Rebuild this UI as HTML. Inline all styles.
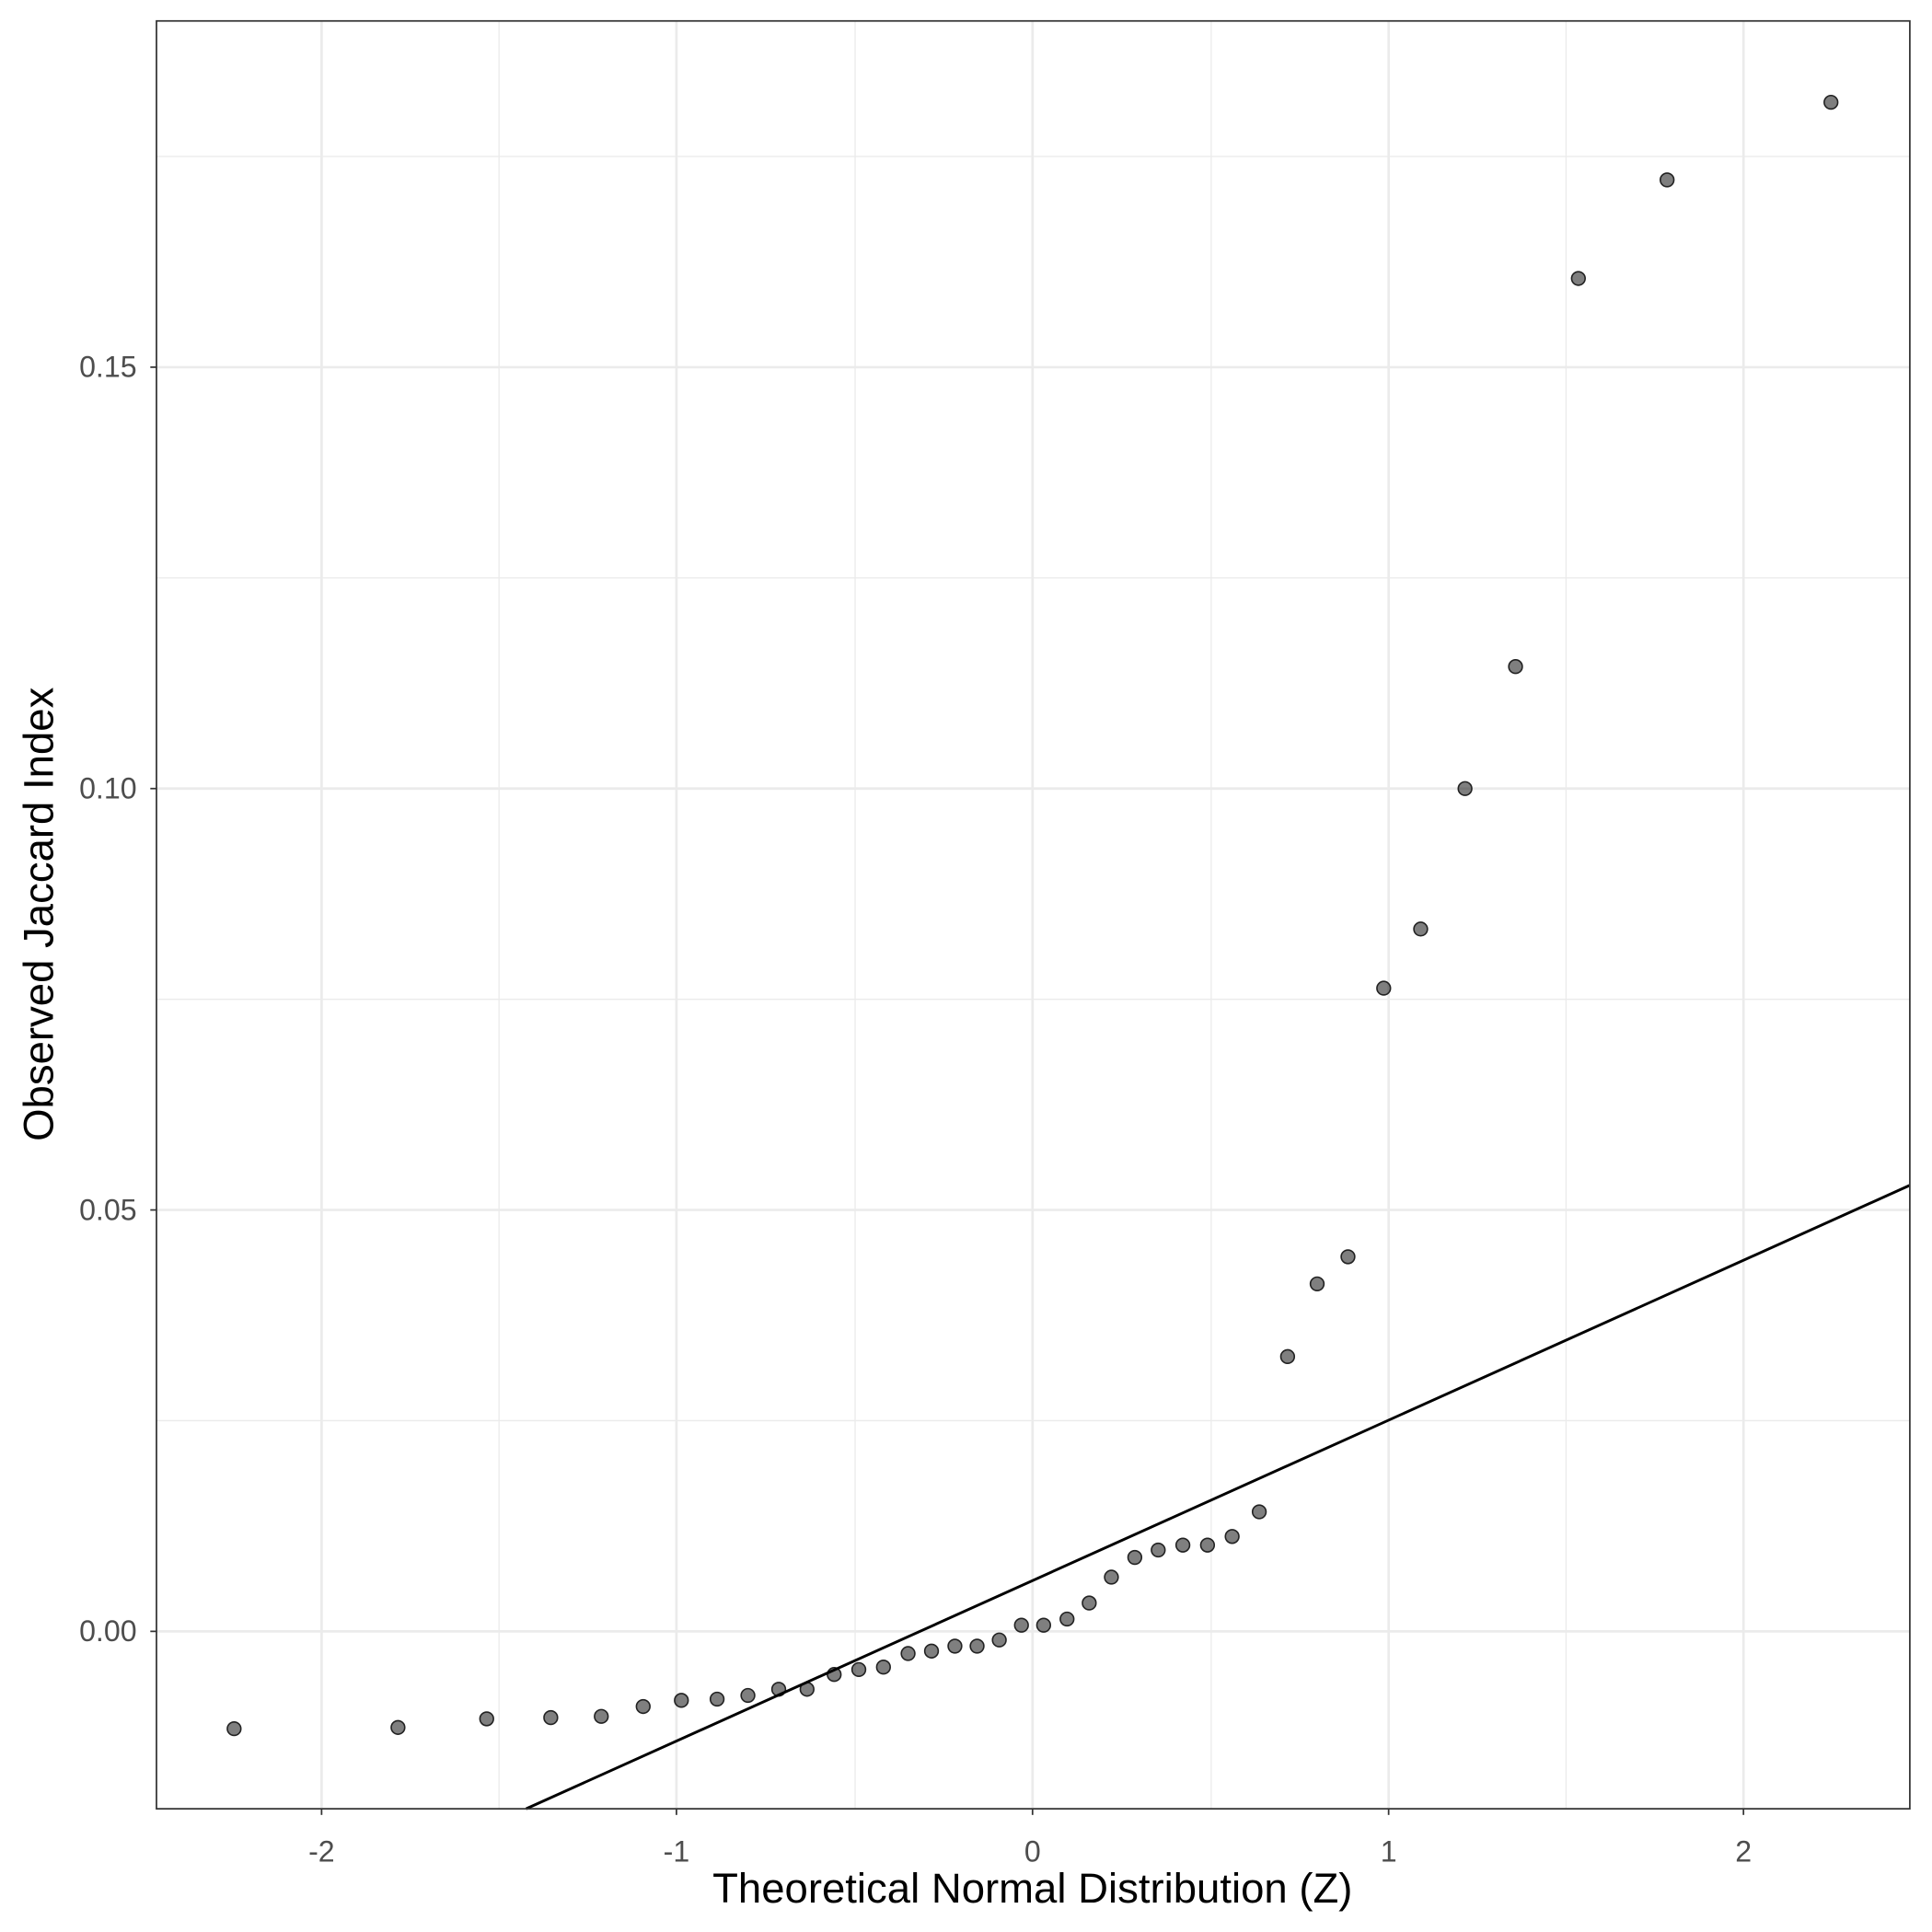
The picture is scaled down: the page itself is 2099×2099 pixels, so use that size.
<!DOCTYPE html>
<html><head><meta charset="utf-8"><style>html,body{margin:0;padding:0;background:#fff}svg{display:block}</style></head>
<body>
<svg width="2099" height="2099" viewBox="0 0 1568 1568" xmlns="http://www.w3.org/2000/svg" font-family="Liberation Sans, sans-serif">
<rect width="1568" height="1568" fill="#fff"/>
<g stroke="#ebebeb" stroke-width="1">
<line x1="405" y1="17" x2="405" y2="1468"/><line x1="694" y1="17" x2="694" y2="1468"/><line x1="983" y1="17" x2="983" y2="1468"/><line x1="1271" y1="17" x2="1271" y2="1468"/>
<line x1="127" y1="1153" x2="1550" y2="1153"/><line x1="127" y1="811" x2="1550" y2="811"/><line x1="127" y1="469" x2="1550" y2="469"/><line x1="127" y1="127" x2="1550" y2="127"/>
</g>
<g stroke="#ebebeb" stroke-width="2">
<line x1="261" y1="17" x2="261" y2="1468"/><line x1="549" y1="17" x2="549" y2="1468"/><line x1="838" y1="17" x2="838" y2="1468"/><line x1="1127" y1="17" x2="1127" y2="1468"/><line x1="1415" y1="17" x2="1415" y2="1468"/>
<line x1="127" y1="1324" x2="1550" y2="1324"/><line x1="127" y1="982" x2="1550" y2="982"/><line x1="127" y1="640" x2="1550" y2="640"/><line x1="127" y1="298" x2="1550" y2="298"/>
</g>
<g fill="#000" fill-opacity="0.5" stroke="#222" stroke-width="1.2">
<circle cx="190" cy="1403" r="5.5"/><circle cx="323" cy="1402" r="5.5"/><circle cx="395" cy="1395" r="5.5"/><circle cx="447" cy="1394" r="5.5"/><circle cx="488" cy="1393" r="5.5"/><circle cx="522" cy="1385" r="5.5"/><circle cx="553" cy="1380" r="5.5"/><circle cx="582" cy="1379" r="5.5"/><circle cx="607" cy="1376" r="5.5"/><circle cx="632" cy="1371" r="5.5"/><circle cx="655" cy="1371" r="5.5"/><circle cx="677" cy="1359" r="5.5"/><circle cx="697" cy="1355" r="5.5"/><circle cx="717" cy="1353" r="5.5"/><circle cx="737" cy="1342" r="5.5"/><circle cx="756" cy="1340" r="5.5"/><circle cx="775" cy="1336" r="5.5"/><circle cx="793" cy="1336" r="5.5"/><circle cx="811" cy="1331" r="5.5"/><circle cx="829" cy="1319" r="5.5"/><circle cx="847" cy="1319" r="5.5"/><circle cx="866" cy="1314" r="5.5"/><circle cx="884" cy="1301" r="5.5"/><circle cx="902" cy="1280" r="5.5"/><circle cx="921" cy="1264" r="5.5"/><circle cx="940" cy="1258" r="5.5"/><circle cx="960" cy="1254" r="5.5"/><circle cx="980" cy="1254" r="5.5"/><circle cx="1000" cy="1247" r="5.5"/><circle cx="1022" cy="1227" r="5.5"/><circle cx="1045" cy="1101" r="5.5"/><circle cx="1069" cy="1042" r="5.5"/><circle cx="1094" cy="1020" r="5.5"/><circle cx="1123" cy="802" r="5.5"/><circle cx="1153" cy="754" r="5.5"/><circle cx="1189" cy="640" r="5.5"/><circle cx="1230" cy="541" r="5.5"/><circle cx="1281" cy="226" r="5.5"/><circle cx="1353" cy="146" r="5.5"/><circle cx="1486" cy="83" r="5.5"/>
</g>
<line x1="427" y1="1468" x2="1550" y2="962" stroke="#000" stroke-width="2.2"/>
<rect x="127" y="17" width="1423" height="1451" fill="none" stroke="#333" stroke-width="1.3"/>
<g stroke="#333" stroke-width="1.3">
<line x1="122" y1="1324" x2="127" y2="1324"/><line x1="122" y1="982" x2="127" y2="982"/><line x1="122" y1="640" x2="127" y2="640"/><line x1="122" y1="298" x2="127" y2="298"/>
<line x1="261" y1="1468" x2="261" y2="1473"/><line x1="549" y1="1468" x2="549" y2="1473"/><line x1="838" y1="1468" x2="838" y2="1473"/><line x1="1127" y1="1468" x2="1127" y2="1473"/><line x1="1415" y1="1468" x2="1415" y2="1473"/>
</g>
<g fill="#4d4d4d" font-size="24" text-anchor="end">
<text x="111" y="1332">0.00</text><text x="111" y="990">0.05</text><text x="111" y="648">0.10</text><text x="111" y="306">0.15</text>
</g>
<g fill="#4d4d4d" font-size="24" text-anchor="middle">
<text x="261" y="1511">-2</text><text x="549" y="1511">-1</text><text x="838" y="1511">0</text><text x="1127" y="1511">1</text><text x="1415" y="1511">2</text>
</g>
<text x="838" y="1544" font-size="34" text-anchor="middle" fill="#000">Theoretical Normal Distribution (Z)</text>
<text transform="translate(43,742) rotate(-90)" font-size="34" text-anchor="middle" fill="#000">Observed Jaccard Index</text>
</svg>
</body></html>
